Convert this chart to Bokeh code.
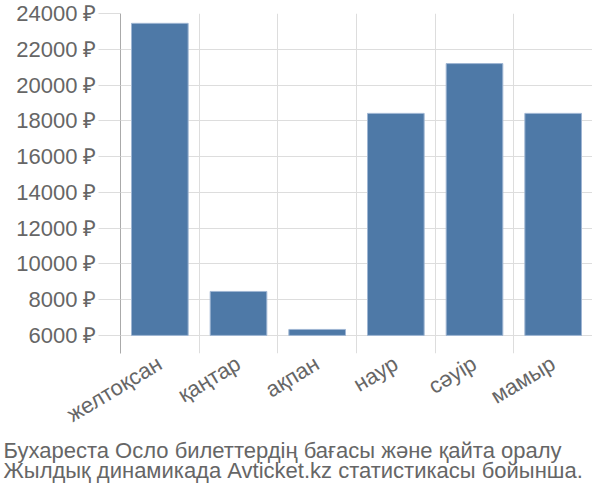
import math
from bokeh.plotting import figure
from bokeh.models import Range1d, FixedTicker, Title, ColumnDataSource
from bokeh.embed import file_html
from bokeh.resources import INLINE

months = ["желтоқсан", "қаңтар", "ақпан", "наур", "сәуір", "мамыр"]
prices = [23450, 8460, 6335, 18415, 21200, 18415]
y_ticks = [6000, 8000, 10000, 12000, 14000, 16000, 18000, 20000, 22000, 24000]
caption_1 = "Бухареста Осло билеттердің бағасы және қайта оралу"
caption_2 = "Жылдық динамикада Avticket.kz статистикасы бойынша."

positions = [i + 0.5 for i in range(len(months))]
source = ColumnDataSource(dict(x=positions, top=prices, bottom=[y_ticks[0]] * len(prices)))

FONT = "Liberation Sans"
GREY_TEXT = "#666666"
GRID = "#dddddd"

p = figure(
    frame_width=472, frame_height=340,
    x_range=Range1d(0, len(months)), y_range=Range1d(4990, 24000),
    output_backend="svg", toolbar_location=None,
    min_border_left=120, min_border_right=0, min_border_top=13, min_border_bottom=138,
)
p.outline_line_color = None
p.background_fill_color = "white"

p.vbar(x="x", top="top", bottom="bottom", width=0.72, source=source,
       fill_color="#4e79a7", line_color="#9fb6d3", line_width=1)

# y axis
p.yaxis.ticker = FixedTicker(ticks=y_ticks)
p.yaxis.major_label_overrides = {t: f"{t} ₽" for t in y_ticks}
p.yaxis.axis_line_color = "#aaaaaa"
p.yaxis.major_tick_line_color = GRID
p.yaxis.major_tick_out = 22
p.yaxis.major_tick_in = 0
p.yaxis.minor_tick_line_color = None
p.yaxis.major_label_standoff = 2
p.yaxis.major_label_text_font = FONT
p.yaxis.major_label_text_font_size = "22px"
p.yaxis.major_label_text_color = GREY_TEXT
p.ygrid.ticker = FixedTicker(ticks=y_ticks)
p.ygrid.grid_line_color = GRID

# x axis
p.xaxis.ticker = FixedTicker(ticks=positions)
p.xaxis.major_label_overrides = {pos: m for pos, m in zip(positions, months)}
p.xaxis.axis_line_color = None
p.xaxis.major_tick_line_color = None
p.xaxis.minor_tick_line_color = None
p.xaxis.major_label_orientation = math.radians(31)
p.xaxis.major_label_standoff = 2
p.xaxis.major_label_text_font = FONT
p.xaxis.major_label_text_font_size = "22px"
p.xaxis.major_label_text_color = GREY_TEXT
p.xgrid.ticker = FixedTicker(ticks=list(range(len(months) + 1)))
p.xgrid.grid_line_color = GRID

for txt, gap in ((caption_1, -10), (caption_2, -3)):
    t = Title(text=txt, align="left", text_font=FONT, text_font_size="22px",
              text_color=GREY_TEXT, text_font_style="normal", offset=-117,
              standoff=gap)
    p.add_layout(t, "below")

open("out.html", "w").write(file_html(p, INLINE))
